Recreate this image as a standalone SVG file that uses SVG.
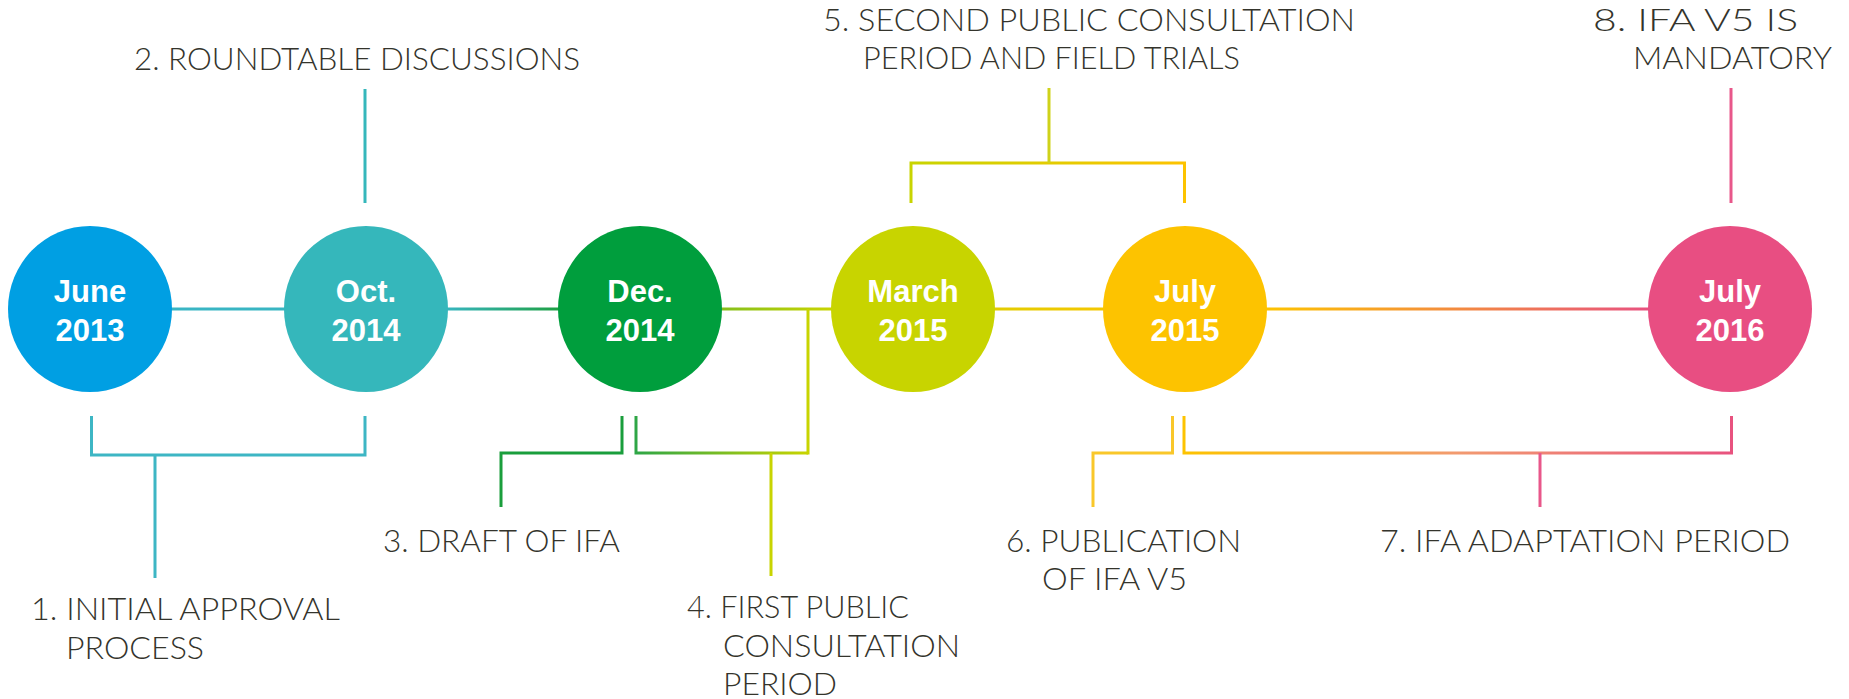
<svg xmlns="http://www.w3.org/2000/svg" width="1849" height="699" viewBox="0 0 1849 699">
<style>
.lbl{font-family:"Lato","Liberation Sans",sans-serif;font-weight:300;font-size:31px;fill:#34342c}
.dt{font-family:"Liberation Sans",Arial,sans-serif;font-weight:bold;font-size:31px;fill:#ffffff;text-anchor:middle}
.ln{fill:none;stroke-width:3;stroke-linecap:butt;stroke-linejoin:miter}
</style>
<defs>
<linearGradient id="gMain" gradientUnits="userSpaceOnUse" x1="0" y1="0" x2="1849" y2="0">
<stop offset="0" stop-color="#3bb5c8"/>
<stop offset="0.242" stop-color="#36b5be"/>
<stop offset="0.302" stop-color="#1fa044"/>
<stop offset="0.449" stop-color="#c8d400"/>
<stop offset="0.597" stop-color="#f4c700"/>
<stop offset="0.685" stop-color="#fdc300"/>
<stop offset="0.891" stop-color="#e8527f"/>
</linearGradient>
<linearGradient id="g4" gradientUnits="userSpaceOnUse" x1="636" y1="0" x2="808" y2="0">
<stop offset="0" stop-color="#2ea646"/>
<stop offset="1" stop-color="#c8d400"/>
</linearGradient>
<linearGradient id="g5" gradientUnits="userSpaceOnUse" x1="911" y1="0" x2="1185" y2="0">
<stop offset="0" stop-color="#c8d400"/>
<stop offset="1" stop-color="#fdc300"/>
</linearGradient>
<linearGradient id="g7" gradientUnits="userSpaceOnUse" x1="1184" y1="0" x2="1732" y2="0">
<stop offset="0" stop-color="#fdc300"/>
<stop offset="0.5" stop-color="#f29a70"/>
<stop offset="1" stop-color="#e8527f"/>
</linearGradient>
</defs>

<g id="connectors">
<path class="ln" d="M90 309 H1730" stroke="url(#gMain)" stroke-width="3.5"/>
<path class="ln" d="M91.5 416 V455 H365 V416 M155 455 V578" stroke="#3db6c4"/>
<path class="ln" d="M365 89 V203" stroke="#35b7bb"/>
<path class="ln" d="M622 416 V453 H501 V507" stroke="#1a9e3c"/>
<path class="ln" d="M636 416 V453 H808" stroke="url(#g4)"/>
<path class="ln" d="M808 309 V454.5 M771 453 V576" stroke="#c8d400"/>
<path class="ln" d="M911 203 V163 H1184.5 V203" stroke="url(#g5)"/>
<path class="ln" d="M1049 88 V163" stroke="#cfd21a"/>
<path class="ln" d="M1172.5 416 V453 H1093 V507" stroke="#f9c72a"/>
<path class="ln" d="M1184 416 V453 H1731.5 V416" stroke="url(#g7)"/>
<path class="ln" d="M1540 453 V507" stroke="#e8578a"/>
<path class="ln" d="M1731 88 V203" stroke="#e8578a"/>
</g>

<g id="n1"><ellipse cx="90" cy="309" rx="82" ry="83" fill="#009fe3"/><text class="dt" x="90" y="302">June</text><text class="dt" x="90" y="341">2013</text></g>
<g id="n2"><ellipse cx="366" cy="309" rx="82" ry="83" fill="#35b7bb"/><text class="dt" x="366" y="302">Oct.</text><text class="dt" x="366" y="341">2014</text></g>
<g id="n3"><ellipse cx="640" cy="309" rx="82" ry="83" fill="#009e3d"/><text class="dt" x="640" y="302">Dec.</text><text class="dt" x="640" y="341">2014</text></g>
<g id="n4"><ellipse cx="913" cy="309" rx="82" ry="83" fill="#c8d400"/><text class="dt" x="913" y="302">March</text><text class="dt" x="913" y="341">2015</text></g>
<g id="n5"><ellipse cx="1185" cy="309" rx="82" ry="83" fill="#fdc300"/><text class="dt" x="1185" y="302">July</text><text class="dt" x="1185" y="341">2015</text></g>
<g id="n6"><ellipse cx="1730" cy="309" rx="82" ry="83" fill="#e84e82"/><text class="dt" x="1730" y="302">July</text><text class="dt" x="1730" y="341">2016</text></g>

<g id="label1"><text class="lbl" x="31" y="620" textLength="309" lengthAdjust="spacingAndGlyphs">1. INITIAL APPROVAL</text><text class="lbl" x="66" y="659" textLength="138" lengthAdjust="spacingAndGlyphs">PROCESS</text></g>
<g id="label2"><text class="lbl" x="134" y="69.5" textLength="446" lengthAdjust="spacingAndGlyphs">2. ROUNDTABLE DISCUSSIONS</text></g>
<g id="label3"><text class="lbl" x="383" y="552" textLength="237" lengthAdjust="spacingAndGlyphs">3. DRAFT OF IFA</text></g>
<g id="label4"><text class="lbl" x="687" y="618" textLength="222" lengthAdjust="spacingAndGlyphs">4. FIRST PUBLIC</text><text class="lbl" x="723" y="657" textLength="237" lengthAdjust="spacingAndGlyphs">CONSULTATION</text><text class="lbl" x="723" y="695" textLength="114" lengthAdjust="spacingAndGlyphs">PERIOD</text></g>
<g id="label5"><text class="lbl" x="823" y="31" textLength="532" lengthAdjust="spacingAndGlyphs">5. SECOND PUBLIC CONSULTATION</text><text class="lbl" x="863" y="69" textLength="377" lengthAdjust="spacingAndGlyphs">PERIOD AND FIELD TRIALS</text></g>
<g id="label6"><text class="lbl" x="1006" y="552" textLength="235" lengthAdjust="spacingAndGlyphs">6. PUBLICATION</text><text class="lbl" x="1042" y="590" textLength="145" lengthAdjust="spacingAndGlyphs">OF IFA V5</text></g>
<g id="label7"><text class="lbl" x="1380" y="552" textLength="410" lengthAdjust="spacingAndGlyphs">7. IFA ADAPTATION PERIOD</text></g>
<g id="label8"><text class="lbl" x="1593" y="31" textLength="205" lengthAdjust="spacingAndGlyphs">8. IFA V5 IS</text><text class="lbl" x="1633" y="69" textLength="199" lengthAdjust="spacingAndGlyphs">MANDATORY</text></g>
</svg>
